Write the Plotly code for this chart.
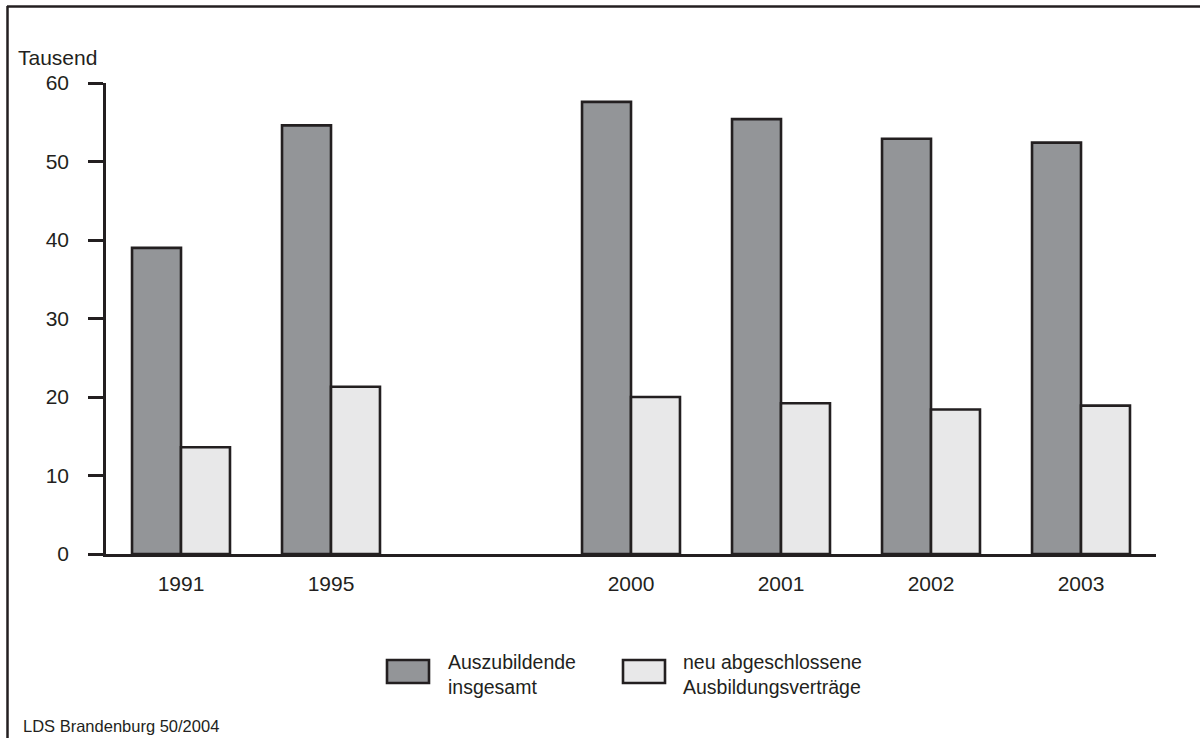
import plotly.graph_objects as go

# ---- data ----
categories = ["1991", "1995", " ", "2000", "2001", "2002", "2003"]
auszubildende = [39.0, 54.6, None, 57.6, 55.4, 52.9, 52.4]
neu_vertraege = [13.6, 21.3, None, 20.0, 19.2, 18.4, 18.9]
series_names = ["Auszubildende<br>insgesamt", "neu abgeschlossene<br>Ausbildungsverträge"]
y_ticks = [0, 10, 20, 30, 40, 50, 60]

# ---- style ----
W, H = 1200, 738
ML, MR, MT, MB = 106, 44, 83, 184
PW, PH = W - ML - MR, H - MT - MB
INK = "#231f20"
DARK = "#939598"
LIGHT = "#e8e8e9"
FONT = "Liberation Sans, Arial, sans-serif"


def px(x):
    return (x - ML) / PW


def py(y):
    return (H - MB - y) / PH


fig = go.Figure()
fig.add_trace(go.Bar(x=categories, y=auszubildende, name=series_names[0],
                     marker=dict(color=DARK, line=dict(color=INK, width=2.6)),
                     showlegend=False, hoverinfo="x+y"))
fig.add_trace(go.Bar(x=categories, y=neu_vertraege, name=series_names[1],
                     marker=dict(color=LIGHT, line=dict(color=INK, width=2.6)),
                     showlegend=False, hoverinfo="x+y"))

shapes = [
    # outer frame (top and left)
    dict(type="line", xref="paper", yref="paper", x0=px(7), x1=px(1205), y0=py(6.5), y1=py(6.5),
         line=dict(color=INK, width=2.5)),
    dict(type="line", xref="paper", yref="paper", x0=px(7.5), x1=px(7.5), y0=py(6), y1=py(745),
         line=dict(color=INK, width=2.5)),
    # legend swatches
    dict(type="rect", xref="paper", yref="paper", x0=px(387), x1=px(429), y0=py(660), y1=py(683),
         fillcolor=DARK, line=dict(color=INK, width=2.6)),
    dict(type="rect", xref="paper", yref="paper", x0=px(623), x1=px(665), y0=py(660), y1=py(683),
         fillcolor=LIGHT, line=dict(color=INK, width=2.6)),
]

annotations = [
    dict(text="Tausend", xref="paper", yref="paper", x=px(16), y=py(57), xanchor="left",
         yanchor="middle", showarrow=False, font=dict(size=21, color=INK, family=FONT)),
    dict(text=series_names[0], xref="paper", yref="paper", x=px(446), y=py(674), xanchor="left",
         yanchor="middle", align="left", showarrow=False, font=dict(size=19.5, color=INK, family=FONT)),
    dict(text=series_names[1], xref="paper", yref="paper", x=px(681), y=py(674), xanchor="left",
         yanchor="middle", align="left", showarrow=False, font=dict(size=19.5, color=INK, family=FONT)),
    dict(text="LDS Brandenburg 50/2004", xref="paper", yref="paper", x=px(21), y=py(726),
         xanchor="left", yanchor="middle", showarrow=False, font=dict(size=16.5, color=INK, family=FONT)),
]

fig.update_layout(
    width=W, height=H,
    margin=dict(l=ML, r=MR, t=MT, b=MB, pad=0),
    paper_bgcolor="white", plot_bgcolor="white",
    barmode="group", bargap=0.347, bargroupgap=0,
    font=dict(family=FONT, color=INK, size=21),
    shapes=shapes, annotations=annotations,
    xaxis=dict(type="category", categoryorder="array", categoryarray=categories,
               range=[-0.5, len(categories) - 0.5], showline=True, linecolor=INK, linewidth=2.5,
               ticks="", showgrid=False, zeroline=False, ticklabelstandoff=9,
               tickfont=dict(size=21, color=INK, family=FONT), fixedrange=True),
    yaxis=dict(range=[0, 60], tickvals=y_ticks, showline=True, linecolor=INK, linewidth=2.5,
               ticks="outside", ticklen=15, tickwidth=2.5, tickcolor=INK, showgrid=False,
               zeroline=False, ticklabelstandoff=15,
               tickfont=dict(size=21, color=INK, family=FONT), fixedrange=True),
)

fig.write_html("out.html", config={"displayModeBar": False},
               post_script="document.body.style.margin='0px';document.body.style.overflow='hidden';")
